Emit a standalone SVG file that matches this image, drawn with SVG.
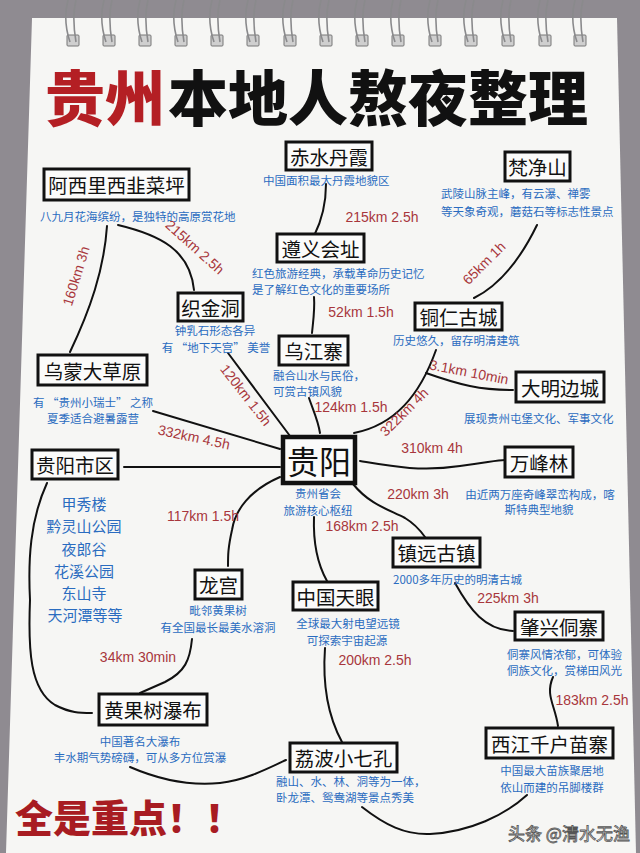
<svg xmlns="http://www.w3.org/2000/svg" width="640" height="853" viewBox="0 0 640 853">
<defs>
<style>
.box{fill:#fbfbfa;stroke:#111;stroke-width:3}
.nt{font-family:"Noto Sans CJK SC",sans-serif;font-size:19.5px;fill:#111;text-anchor:middle;dominant-baseline:central}
.d{font-family:"Noto Sans CJK SC",sans-serif;font-size:11.5px;fill:#2a6cc0;dominant-baseline:central}
.c{text-anchor:middle}
.lst{font-family:"Noto Sans CJK SC",sans-serif;font-size:15px;fill:#2a6cc0;text-anchor:middle;dominant-baseline:central}
.lbl{font-family:"Liberation Sans",sans-serif;font-size:14px;fill:#a8363c;text-anchor:middle;dominant-baseline:central}
.ln{fill:none;stroke:#111;stroke-width:2;stroke-linecap:round}
.wire{fill:none;stroke:#8a8a8c;stroke-width:1.6}
.hole{fill:#cfcfcf;stroke:#777;stroke-width:1}
</style>
</defs>
<rect x="0" y="0" width="640" height="853" fill="#8f8b91"/>
<polygon points="32,18 617,18 636,853 6,853" fill="#f6f6f4"/>
<g id="rings">
<g transform="translate(73,0)"><rect class="hole" x="-6" y="35" width="12" height="11" rx="1"/><path class="wire" d="M-5,0 C-9,15 -7,30 -3,42 M3,0 C-1,15 1,30 3,42"/></g>
<g transform="translate(109,0)"><rect class="hole" x="-6" y="35" width="12" height="11" rx="1"/><path class="wire" d="M-5,0 C-9,15 -7,30 -3,42 M3,0 C-1,15 1,30 3,42"/></g>
<g transform="translate(145,0)"><rect class="hole" x="-6" y="35" width="12" height="11" rx="1"/><path class="wire" d="M-5,0 C-9,15 -7,30 -3,42 M3,0 C-1,15 1,30 3,42"/></g>
<g transform="translate(181,0)"><rect class="hole" x="-6" y="35" width="12" height="11" rx="1"/><path class="wire" d="M-5,0 C-9,15 -7,30 -3,42 M3,0 C-1,15 1,30 3,42"/></g>
<g transform="translate(217,0)"><rect class="hole" x="-6" y="35" width="12" height="11" rx="1"/><path class="wire" d="M-5,0 C-9,15 -7,30 -3,42 M3,0 C-1,15 1,30 3,42"/></g>
<g transform="translate(253,0)"><rect class="hole" x="-6" y="35" width="12" height="11" rx="1"/><path class="wire" d="M-5,0 C-9,15 -7,30 -3,42 M3,0 C-1,15 1,30 3,42"/></g>
<g transform="translate(290,0)"><rect class="hole" x="-6" y="35" width="12" height="11" rx="1"/><path class="wire" d="M-5,0 C-9,15 -7,30 -3,42 M3,0 C-1,15 1,30 3,42"/></g>
<g transform="translate(326,0)"><rect class="hole" x="-6" y="35" width="12" height="11" rx="1"/><path class="wire" d="M-5,0 C-9,15 -7,30 -3,42 M3,0 C-1,15 1,30 3,42"/></g>
<g transform="translate(362,0)"><rect class="hole" x="-6" y="35" width="12" height="11" rx="1"/><path class="wire" d="M-5,0 C-9,15 -7,30 -3,42 M3,0 C-1,15 1,30 3,42"/></g>
<g transform="translate(398,0)"><rect class="hole" x="-6" y="35" width="12" height="11" rx="1"/><path class="wire" d="M-5,0 C-9,15 -7,30 -3,42 M3,0 C-1,15 1,30 3,42"/></g>
<g transform="translate(435,0)"><rect class="hole" x="-6" y="35" width="12" height="11" rx="1"/><path class="wire" d="M-5,0 C-9,15 -7,30 -3,42 M3,0 C-1,15 1,30 3,42"/></g>
<g transform="translate(471,0)"><rect class="hole" x="-6" y="35" width="12" height="11" rx="1"/><path class="wire" d="M-5,0 C-9,15 -7,30 -3,42 M3,0 C-1,15 1,30 3,42"/></g>
<g transform="translate(508,0)"><rect class="hole" x="-6" y="35" width="12" height="11" rx="1"/><path class="wire" d="M-5,0 C-9,15 -7,30 -3,42 M3,0 C-1,15 1,30 3,42"/></g>
<g transform="translate(545,0)"><rect class="hole" x="-6" y="35" width="12" height="11" rx="1"/><path class="wire" d="M-5,0 C-9,15 -7,30 -3,42 M3,0 C-1,15 1,30 3,42"/></g>
<g transform="translate(580,0)"><rect class="hole" x="-6" y="35" width="12" height="11" rx="1"/><path class="wire" d="M-5,0 C-9,15 -7,30 -3,42 M3,0 C-1,15 1,30 3,42"/></g>
</g>
<g id="title">
<text x="45" y="121" font-family="Noto Sans CJK SC, sans-serif" font-size="60" font-weight="900"><tspan fill="#b41f24">贵州</tspan><tspan fill="#111" x="168">本地人熬夜整理</tspan></text>
</g>
<g id="connectors">
<path class="ln" d="M107,226 C104,270 90,310 70,352"/>
<path class="ln" d="M118,225 C160,235 190,250 194,290"/>
<path class="ln" d="M326,184 C326,205 322,220 314,236"/>
<path class="ln" d="M537,225 C520,260 500,285 474,298"/>
<path class="ln" d="M314,297 C315,310 313,322 312,333"/>
<path class="ln" d="M228,353 L290,436"/>
<path class="ln" d="M153,411 L280,449"/>
<path class="ln" d="M124,467 L280,467"/>
<path class="ln" d="M309,398 C313,410 318,420 320,433"/>
<path class="ln" d="M436,350 C420,395 395,425 354,433"/>
<path class="ln" d="M426,373 C460,385 480,390 513,390"/>
<path class="ln" d="M360,461 C390,466 420,472 460,466 C490,462 498,460 505,460"/>
<path class="ln" d="M353,484 C370,505 390,510 405,518 C415,524 420,530 425,537"/>
<path class="ln" d="M280,477 C250,490 235,510 232,530 C228,548 228,555 228,566"/>
<path class="ln" d="M314,517 C313,545 318,565 327,581"/>
<path class="ln" d="M455,583 C470,610 485,630 513,631"/>
<path class="ln" d="M553,677 C545,695 555,705 558,726"/>
<path class="ln" d="M192,639 C190,660 185,672 165,682 L140,693"/>
<path class="ln" d="M47,483 C30,520 28,560 30,600 C28,650 30,690 55,705 C70,713 80,713 92,713"/>
<path class="ln" d="M325,648 C322,690 330,720 342,742"/>
<path class="ln" d="M130,767 C160,780 190,786 220,783 C245,780 265,770 286,760"/>
<path class="ln" d="M362,807 C385,825 405,835 430,834 C470,832 505,815 527,795"/>
</g>
<g id="labels">
<text class="lbl" transform="translate(195,247) rotate(42)">215km 2.5h</text>
<text class="lbl" transform="translate(76,276) rotate(-73)">160km 3h</text>
<text class="lbl" x="382" y="217">215km 2.5h</text>
<text class="lbl" transform="translate(484,263) rotate(-45)">65km 1h</text>
<text class="lbl" x="361" y="312">52km 1.5h</text>
<text class="lbl" transform="translate(246,395) rotate(52)">120km 1.5h</text>
<text class="lbl" transform="translate(194,437) rotate(12)">332km 4.5h</text>
<text class="lbl" x="351" y="407">124km 1.5h</text>
<text class="lbl" transform="translate(469,372) rotate(11)">3.1km 10min</text>
<text class="lbl" transform="translate(404,412) rotate(-45)">322km 4h</text>
<text class="lbl" x="432" y="448">310km 4h</text>
<text class="lbl" x="418" y="494">220km 3h</text>
<text class="lbl" x="203" y="516">117km 1.5h</text>
<text class="lbl" x="362" y="526">168km 2.5h</text>
<text class="lbl" x="508" y="598">225km 3h</text>
<text class="lbl" x="138" y="657">34km 30min</text>
<text class="lbl" x="375" y="660">200km 2.5h</text>
<text class="lbl" x="592" y="700">183km 2.5h</text>
</g>
<g id="n-axlx"><rect class="box" x="44" y="169" width="145" height="31"/><text class="nt" x="116.5" y="184.5">阿西里西韭菜坪</text><text class="d" x="40" y="216">八九月花海缤纷，是独特的高原赏花地</text></g>
<g id="n-csdx"><rect class="box" x="286" y="142" width="86" height="28"/><text class="nt" x="329" y="156">赤水丹霞</text><text class="d" x="263" y="180">中国面积最大丹霞地貌区</text></g>
<g id="n-fjs"><rect class="box" x="505" y="152" width="65" height="29"/><text class="nt" x="537.5" y="166.5">梵净山</text><text class="d" x="441" y="193">武陵山脉主峰，有云瀑、禅雾</text><text class="d" x="441" y="211">等天象奇观，蘑菇石等标志性景点</text></g>
<g id="n-zyhz"><rect class="box" x="277" y="234" width="87" height="28"/><text class="nt" x="320.5" y="248">遵义会址</text><text class="d" x="252" y="273">红色旅游经典，承载革命历史记忆</text><text class="d" x="252" y="289">是了解红色文化的重要场所</text></g>
<g id="n-zjd"><rect class="box" x="178" y="293" width="65" height="28"/><text class="nt" x="210.5" y="307">织金洞</text><text class="d c" x="215" y="330">钟乳石形态各异</text><text class="d c" x="216" y="347">有 “地下天宫” 美誉</text></g>
<g id="n-trgc"><rect class="box" x="415" y="303" width="87" height="27"/><text class="nt" x="458.5" y="316.5">铜仁古城</text><text class="d" x="393" y="340">历史悠久，留存明清建筑</text></g>
<g id="n-wjz"><rect class="box" x="279" y="336" width="69" height="29"/><text class="nt" x="313.5" y="350.5">乌江寨</text><text class="d" x="273" y="375">融合山水与民俗，</text><text class="d" x="273" y="391">可赏古镇风貌</text></g>
<g id="n-wmdcy"><rect class="box" x="38" y="355" width="109" height="30"/><text class="nt" x="92.5" y="370">乌蒙大草原</text><text class="d c" x="93" y="402">有 “贵州小瑞士” 之称</text><text class="d c" x="93" y="418">夏季适合避暑露营</text></g>
<g id="n-dmbc"><rect class="box" x="516" y="372" width="88" height="30"/><text class="nt" x="560" y="387">大明边城</text><text class="d" x="464" y="418">展现贵州屯堡文化、军事文化</text></g>
<g id="n-gy"><rect class="box" x="283" y="437" width="72" height="46" style="stroke-width:4.5"/><text class="nt" x="319" y="460" style="font-size:32px">贵阳</text><text class="d c" x="318" y="493">贵州省会</text><text class="d c" x="318" y="510">旅游核心枢纽</text></g>
<g id="n-gysq"><rect class="box" x="32" y="450" width="86" height="29"/><text class="nt" x="75" y="464.5">贵阳市区</text>
<text class="lst" x="84" y="503">甲秀楼</text><text class="lst" x="84" y="525">黔灵山公园</text><text class="lst" x="84" y="548">夜郎谷</text><text class="lst" x="84" y="570">花溪公园</text><text class="lst" x="84" y="592">东山寺</text><text class="lst" x="85" y="614">天河潭等等</text></g>
<g id="n-wfl"><rect class="box" x="505" y="447" width="68" height="30"/><text class="nt" x="539" y="462">万峰林</text><text class="d c" x="540" y="494">由近两万座奇峰翠峦构成，喀</text><text class="d c" x="539" y="509">斯特典型地貌</text></g>
<g id="n-zygz"><rect class="box" x="393" y="538" width="87" height="29"/><text class="nt" x="436.5" y="552.5">镇远古镇</text><text class="d" x="393" y="579">2000多年历史的明清古城</text></g>
<g id="n-lg"><rect class="box" x="195" y="570" width="47" height="29"/><text class="nt" x="218.5" y="584.5">龙宫</text><text class="d c" x="218" y="610">毗邻黄果树</text><text class="d c" x="218" y="627">有全国最长最美水溶洞</text></g>
<g id="n-zgty"><rect class="box" x="293" y="582" width="85" height="28"/><text class="nt" x="335.5" y="596">中国天眼</text><text class="d c" x="348" y="623">全球最大射电望远镜</text><text class="d c" x="347" y="640">可探索宇宙起源</text></g>
<g id="n-zxdz"><rect class="box" x="515" y="612" width="88" height="28"/><text class="nt" x="559" y="626">肇兴侗寨</text><text class="d" x="507" y="654">侗寨风情浓郁，可体验</text><text class="d" x="507" y="670">侗族文化，赏梯田风光</text></g>
<g id="n-hgspb"><rect class="box" x="99" y="694" width="108" height="31"/><text class="nt" x="153" y="709.5">黄果树瀑布</text><text class="d c" x="140" y="741">中国著名大瀑布</text><text class="d c" x="140" y="757">丰水期气势磅礴，可从多方位赏瀑</text></g>
<g id="n-lbxqk"><rect class="box" x="290" y="743" width="107" height="29"/><text class="nt" x="343.5" y="757.5">荔波小七孔</text><text class="d" x="276" y="781">融山、水、林、洞等为一体，</text><text class="d" x="276" y="797">卧龙潭、鸳鸯湖等景点秀美</text></g>
<g id="n-xjqhmz"><rect class="box" x="486" y="728" width="127" height="30"/><text class="nt" x="549.5" y="743">西江千户苗寨</text><text class="d c" x="552" y="770">中国最大苗族聚居地</text><text class="d c" x="552" y="787">依山而建的吊脚楼群</text></g>
<g id="footer">
<text x="15" y="832" font-family="Noto Sans CJK SC, sans-serif" font-size="38" font-weight="900" fill="#a81c22">全是重点！！</text>
<text x="508" y="832" font-family="Noto Sans CJK SC, sans-serif" font-size="17" fill="#f2f2f2" stroke="#555" stroke-width="0.8" dominant-baseline="central">头条 @清水无渔</text>
</g>
</svg>
